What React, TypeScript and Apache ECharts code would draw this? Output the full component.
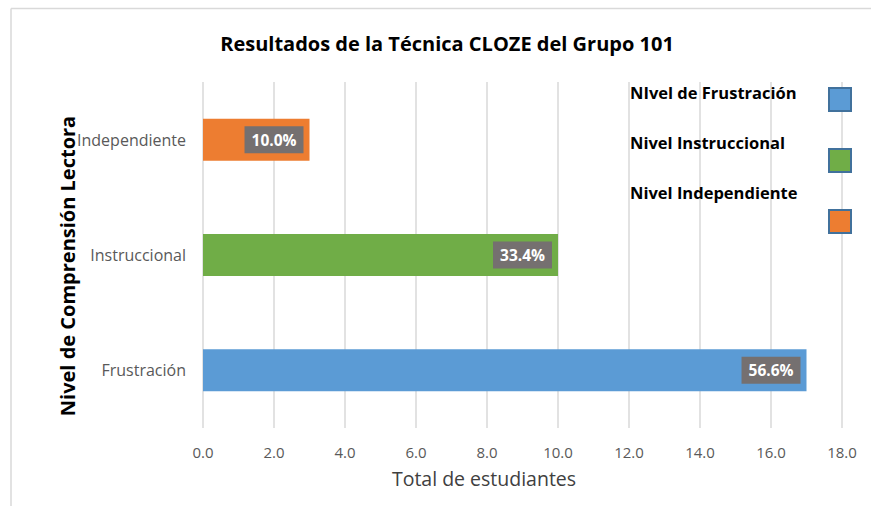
import React, { useEffect, useRef } from "react";
import * as echarts from "echarts";

const categories = ["Frustración", "Instruccional", "Independiente"];
const students = [17, 10, 3];
const percents = [56.6, 33.4, 10.0];
const barColors = ["#5b9bd5", "#70ad47", "#ed7d31"];
const legendNames = ["NIvel de Frustración", "Nivel Instruccional", "Nivel Independiente"];
const xTicks = { min: 0, max: 18, interval: 2 };

const FONT = "'Open Sans', Lato, sans-serif";

export default function App() {
  const ref = useRef<HTMLDivElement>(null);
  useEffect(() => {
    if (!ref.current) return;
    const chart = echarts.init(ref.current, undefined, { renderer: "svg" });
    const legendTextY = [92, 142, 192];
    const legendBoxY = [88, 149, 210];
    const graphic: any[] = [
      { type: "line", z: 100, shape: { x1: 11, y1: 8.5, x2: 871, y2: 8.5 }, style: { stroke: "#d9d9d9", lineWidth: 1.5 } },
      { type: "line", z: 100, shape: { x1: 11, y1: 8.5, x2: 11, y2: 506 }, style: { stroke: "#d9d9d9", lineWidth: 1.5 } },
    ];
    legendNames.forEach((n, i) => {
      graphic.push({
        type: "text",
        z: 100,
        x: 630,
        y: legendTextY[i],
        style: { text: n, font: `bold 16.5px ${FONT}`, fill: "#000", textVerticalAlign: "middle", textAlign: "left" },
      });
      graphic.push({
        type: "rect",
        z: 100,
        shape: { x: 829, y: legendBoxY[i], width: 22, height: 23 },
        style: { fill: barColors[i], stroke: "#41719c", lineWidth: 2 },
      });
    });
    chart.setOption({
      animation: false,
      textStyle: { fontFamily: FONT },
      title: {
        text: "Resultados de la Técnica CLOZE del Grupo 101",
        left: 442,
        top: 28,
        textAlign: "center",
        textStyle: { fontFamily: FONT, fontWeight: "bold", fontSize: 20, color: "#000" },
      },
      grid: { left: 203, right: 29, top: 82, bottom: 78, containLabel: false },
      xAxis: {
        type: "value",
        min: xTicks.min,
        max: xTicks.max,
        interval: xTicks.interval,
        axisLine: { show: false },
        axisTick: { show: false },
        splitLine: { show: true, lineStyle: { color: "#d9d9d9", width: 1.5 } },
        axisLabel: { color: "#595959", fontSize: 15, margin: 16, formatter: (v: number) => v.toFixed(1) },
        name: "Total de estudiantes",
        nameLocation: "middle",
        nameGap: 40,
        nameTextStyle: { color: "#404040", fontSize: 19.5, padding: [0, 77, 0, 0] },
      },
      yAxis: {
        type: "category",
        data: categories,
        axisLine: { show: false },
        axisTick: { show: false },
        splitLine: { show: false },
        axisLabel: { color: "#595959", fontSize: 16, margin: 17 },
        name: "Nivel de Comprensión Lectora",
        nameLocation: "middle",
        nameRotate: 90,
        nameGap: 126,
        nameMoveOverlap: false,
        nameTextStyle: { color: "#000", fontSize: 20, fontWeight: "bold", padding: [0, 22, 0, 0] },
      },
      series: [
        {
          type: "bar",
          barWidth: 42,
          data: students.map((v, i) => ({ value: v, itemStyle: { color: barColors[i] } })),
          label: {
            show: true,
            position: "insideRight",
            distance: 6,
            formatter: (p: any) => percents[p.dataIndex].toFixed(1) + "%",
            backgroundColor: "#757070",
            color: "#fff",
            fontWeight: "bold",
            fontSize: 15.5,
            padding: [6, 7, 5, 7],
          },
        },
      ],
      graphic,
    });
    return () => chart.dispose();
  }, []);
  return <div ref={ref} style={{ position: "absolute", left: 0, top: 0, width: 871, height: 506, background: "#fff" }} />;
}
